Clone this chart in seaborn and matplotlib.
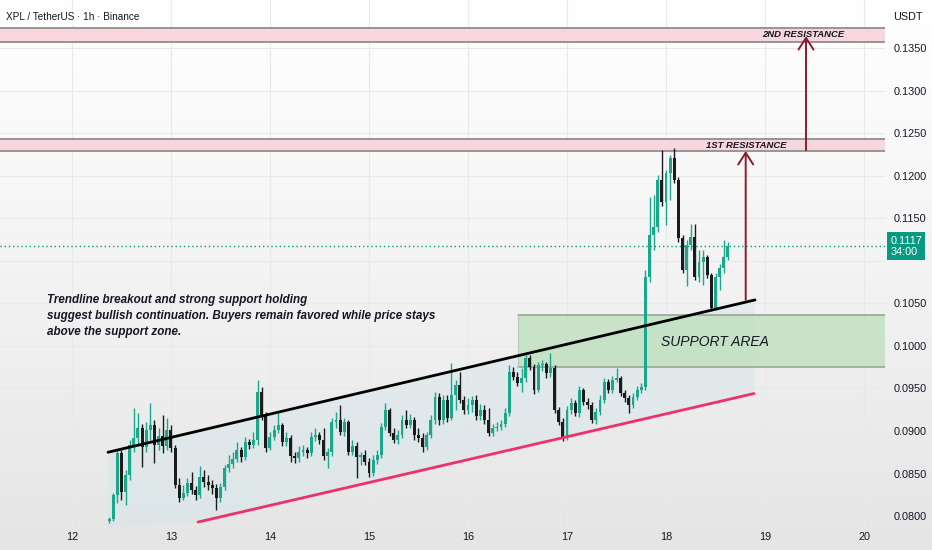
import numpy as np
import pandas as pd
import seaborn as sns
import matplotlib.pyplot as plt
from matplotlib.colors import LinearSegmentedColormap

# hourly XPL/USDT candles from 12 Sep 09:00 to 18 Sep 15:00, open = previous close
first_open = 0.0794
closes = [0.0797, 0.0825, 0.0874, 0.0828, 0.0848, 0.0884, 0.0892, 0.0904, 0.0881, 0.0901,
          0.0907, 0.0884, 0.0894, 0.0882, 0.0901, 0.0880, 0.0837, 0.0821, 0.0827, 0.0839,
          0.0831, 0.0825, 0.0846, 0.0840, 0.0837, 0.0833, 0.0821, 0.0834, 0.0857, 0.0861,
          0.0867, 0.0878, 0.0869, 0.0887, 0.0884, 0.0889, 0.0946, 0.0919, 0.0880, 0.0893,
          0.0901, 0.0907, 0.0887, 0.0892, 0.0871, 0.0868, 0.0875, 0.0878, 0.0874, 0.0893,
          0.0895, 0.0889, 0.0871, 0.0875, 0.0911, 0.0913, 0.0899, 0.0911, 0.0875, 0.0882,
          0.0869, 0.0872, 0.0864, 0.0851, 0.0866, 0.0872, 0.0905, 0.0925, 0.0898, 0.0889,
          0.0895, 0.0913, 0.0907, 0.0913, 0.0895, 0.0892, 0.0881, 0.0895, 0.0913, 0.0940,
          0.0913, 0.0936, 0.0915, 0.0942, 0.0954, 0.0936, 0.0925, 0.0931, 0.0936, 0.0918,
          0.0925, 0.0913, 0.0898, 0.0904, 0.0905, 0.0908, 0.0921, 0.0969, 0.0963, 0.0956,
          0.0962, 0.0986, 0.0975, 0.0948, 0.0977, 0.0979, 0.0968, 0.0974, 0.0925, 0.0911,
          0.0893, 0.0925, 0.0933, 0.0921, 0.0948, 0.0934, 0.0931, 0.0913, 0.0922, 0.0936,
          0.0958, 0.0948, 0.0960, 0.0962, 0.0945, 0.0939, 0.0931, 0.0940, 0.0948, 0.0952,
          0.1081, 0.1130, 0.1140, 0.1195, 0.1169, 0.1203, 0.1221, 0.1195, 0.1127, 0.1089,
          0.1119, 0.1128, 0.1081, 0.1099, 0.1104, 0.1083, 0.1045, 0.1081, 0.1092, 0.1104,
          0.1117]
highs = [0.0799, 0.0827, 0.0878, 0.0878, 0.0854, 0.0889, 0.0927, 0.0921, 0.0908, 0.0911,
         0.0933, 0.0913, 0.0904, 0.0919, 0.0915, 0.0907, 0.0884, 0.0845, 0.0837, 0.0845,
         0.0852, 0.0835, 0.0859, 0.0854, 0.0848, 0.0842, 0.0838, 0.0839, 0.0860, 0.0872,
         0.0875, 0.0887, 0.0881, 0.0893, 0.0891, 0.0899, 0.0960, 0.0952, 0.0922, 0.0899,
         0.0907, 0.0921, 0.0909, 0.0899, 0.0895, 0.0875, 0.0882, 0.0884, 0.0881, 0.0899,
         0.0904, 0.0899, 0.0904, 0.0880, 0.0915, 0.0922, 0.0931, 0.0915, 0.0913, 0.0889,
         0.0887, 0.0875, 0.0878, 0.0868, 0.0872, 0.0878, 0.0909, 0.0933, 0.0927, 0.0904,
         0.0901, 0.0919, 0.0925, 0.0920, 0.0916, 0.0904, 0.0898, 0.0899, 0.0919, 0.0946,
         0.0945, 0.0942, 0.0942, 0.0980, 0.0960, 0.0969, 0.0941, 0.0939, 0.0941, 0.0942,
         0.0932, 0.0931, 0.0927, 0.0908, 0.0911, 0.0913, 0.0927, 0.0978, 0.0975, 0.0969,
         0.0974, 0.0989, 0.0989, 0.0979, 0.0981, 0.0983, 0.0981, 0.0992, 0.0978, 0.0928,
         0.0915, 0.0929, 0.0939, 0.0936, 0.0953, 0.0951, 0.0939, 0.0934, 0.0927, 0.0942,
         0.0962, 0.0961, 0.0965, 0.0974, 0.0965, 0.0948, 0.0942, 0.0945, 0.0953, 0.0956,
         0.1089, 0.1175, 0.1177, 0.1201, 0.1230, 0.1207, 0.1224, 0.1232, 0.1198, 0.1130,
         0.1124, 0.1143, 0.1143, 0.1113, 0.1113, 0.1107, 0.1086, 0.1086, 0.1096, 0.1124,
         0.1122]
lows = [0.0792, 0.0794, 0.0815, 0.0819, 0.0813, 0.0842, 0.0875, 0.0882, 0.0858, 0.0875,
        0.0889, 0.0862, 0.0878, 0.0874, 0.0878, 0.0875, 0.0833, 0.0817, 0.0819, 0.0824,
        0.0826, 0.0819, 0.0821, 0.0834, 0.0831, 0.0826, 0.0807, 0.0817, 0.0831, 0.0852,
        0.0857, 0.0864, 0.0864, 0.0866, 0.0879, 0.0880, 0.0884, 0.0913, 0.0875, 0.0878,
        0.0889, 0.0898, 0.0882, 0.0882, 0.0864, 0.0862, 0.0864, 0.0871, 0.0868, 0.0871,
        0.0888, 0.0885, 0.0866, 0.0857, 0.0871, 0.0904, 0.0895, 0.0894, 0.0872, 0.0872,
        0.0845, 0.0860, 0.0860, 0.0846, 0.0847, 0.0861, 0.0868, 0.0901, 0.0894, 0.0886,
        0.0885, 0.0892, 0.0904, 0.0904, 0.0889, 0.0887, 0.0875, 0.0878, 0.0892, 0.0908,
        0.0907, 0.0908, 0.0911, 0.0913, 0.0925, 0.0933, 0.0920, 0.0920, 0.0922, 0.0913,
        0.0913, 0.0908, 0.0894, 0.0894, 0.0900, 0.0901, 0.0905, 0.0918, 0.0960, 0.0953,
        0.0946, 0.0958, 0.0972, 0.0943, 0.0946, 0.0970, 0.0962, 0.0963, 0.0921, 0.0907,
        0.0888, 0.0889, 0.0920, 0.0918, 0.0916, 0.0931, 0.0926, 0.0909, 0.0908, 0.0919,
        0.0933, 0.0945, 0.0945, 0.0958, 0.0941, 0.0934, 0.0921, 0.0927, 0.0936, 0.0945,
        0.0948, 0.1075, 0.1113, 0.1134, 0.1164, 0.1142, 0.1171, 0.1191, 0.1122, 0.1086,
        0.1070, 0.1113, 0.1077, 0.1075, 0.1072, 0.1080, 0.1041, 0.1042, 0.1066, 0.1086,
        0.1101]

day_ticks = [12, 13, 14, 15, 16, 17, 18, 19, 20]
price_ticks = [0.0800, 0.0850, 0.0900, 0.0950, 0.1000, 0.1050, 0.1100,
               0.1150, 0.1200, 0.1250, 0.1300, 0.1350]
current_price = 0.1117

# drawn objects (day-of-month, price)
res2_zone = (0.1357, 0.1373)
res1_zone = (0.1229, 0.1243)
support_zone = (0.0975, 0.1036)
support_start = 16.505
upper_days, upper_prices = [12.364, 18.899], [0.0875, 0.1054]
lower_days, lower_prices = [13.273, 18.889], [0.0793, 0.0944]
arrow_days = [18.805, 19.414]
arrow_from = [0.1054, 0.1230]
arrow_to = [0.1229, 0.1364]

note = ("Trendline breakout and strong support holding\n"
        "suggest bullish continuation. Buyers remain favored while price stays\n"
        "above the support zone.")

UP = "#1aa78c"
DOWN = "#1b1b1b"
TXT = "#131722"

sns.set_theme(style="whitegrid")
plt.rcParams["font.family"] = ["Liberation Sans", "DejaVu Sans"]

times = pd.date_range("2025-09-12 09:00", periods=len(closes), freq="h")
df = pd.DataFrame({"time": times, "close": closes, "high": highs, "low": lows})
df["open"] = [first_open] + closes[:-1]
df["x"] = df["time"].dt.day + df["time"].dt.hour / 24
df["high"] = df[["high", "open", "close"]].max(axis=1)
df["low"] = df[["low", "open", "close"]].min(axis=1)
up = df["close"] >= df["open"]
colors = np.where(up, UP, DOWN)

fig = plt.figure(figsize=(9.32, 5.5), dpi=100)
bg = fig.add_axes([0, 0, 1, 1], zorder=-10)
grad = LinearSegmentedColormap.from_list("bg", ["#ffffff", "#f3f3f3", "#e5e5e5"])
bg.imshow(np.linspace(0, 1, 256).reshape(-1, 1), cmap=grad, aspect="auto",
          extent=[0, 1, 0, 1])
bg.axis("off")

ax = fig.add_axes([0, 0.04, 885 / 932, 0.96])
ax.set_facecolor("none")
ax.set_xlim(11.273, 20.212)
ax.set_ylim(0.0786, 0.14064)

# channel shading
poly_x = [upper_days[0], upper_days[1], lower_days[1], lower_days[0], upper_days[0]]
poly_y = [upper_prices[0], upper_prices[1], lower_prices[1], lower_prices[0], 0.0786]
ax.fill(poly_x, poly_y, color="#d3e5ea", alpha=0.45, lw=0, zorder=1)

# zones
for lo, hi in [res2_zone, res1_zone]:
    ax.axhspan(lo, hi, color="#f8d6de", lw=0, zorder=1)
    ax.axhline(lo, color="#8e8e8e", lw=1.3, zorder=2)
    ax.axhline(hi, color="#8e8e8e", lw=1.3, zorder=2)
ax.fill_between([support_start, 20.212], support_zone[0], support_zone[1],
                color="#bfe0bd", alpha=0.8, lw=0, zorder=1)
ax.plot([support_start, 20.212], [support_zone[0]] * 2, color="#9aa59a", lw=1.2, zorder=2)
ax.plot([support_start, 20.212], [support_zone[1]] * 2, color="#9aa59a", lw=1.2, zorder=2)
ax.plot([support_start, support_start], support_zone, color="#b5c9b4", lw=0.8, zorder=2)

# candles
ax.vlines(df["x"], df["low"], df["high"], colors=colors, lw=1, zorder=3)
body = (df["close"] - df["open"]).abs().clip(lower=0.00008)
ax.bar(df["x"], body, bottom=df[["open", "close"]].min(axis=1), width=0.72 / 24,
       color=colors, lw=0, zorder=4)

# trendlines
lines = pd.DataFrame({"day": upper_days + lower_days,
                      "price": upper_prices + lower_prices,
                      "line": ["upper", "upper", "lower", "lower"]})
sns.lineplot(data=lines, x="day", y="price", hue="line",
             palette={"upper": "#000000", "lower": "#f0306a"},
             lw=2, legend=False, ax=ax, zorder=5)

# current price
ax.axhline(current_price, color="#089981", lw=1, ls=(0, (1, 2)), zorder=2)

# arrows
for d, a, b in zip(arrow_days, arrow_from, arrow_to):
    ax.annotate("", xy=(d, b), xytext=(d, a),
                arrowprops=dict(arrowstyle="->,head_length=0.7,head_width=0.45",
                                color="#8c1c2c", lw=1.4, shrinkA=0, shrinkB=0),
                zorder=6)

# labels
ax.text(19.384, 0.1366, "2ND RESISTANCE", ha="center", va="center", fontsize=6.8,
        style="italic", fontweight="bold", color=TXT, zorder=7)
ax.text(18.808, 0.1236, "1ST RESISTANCE", ha="center", va="center", fontsize=6.8,
        style="italic", fontweight="bold", color=TXT, zorder=7)
ax.text(18.495, 0.1005, "SUPPORT AREA", ha="center", va="center", fontsize=10,
        style="italic", color=TXT, zorder=7)
ax.text(11.747, 0.1061, note, ha="left", va="top", fontsize=8.4, style="italic",
        fontweight="bold", color=TXT, linespacing=1.45, zorder=7)

# axes styling
ax.grid(True, color="#e9e9e9", lw=0.8)
ax.set_axisbelow(True)
for s in ax.spines.values():
    s.set_visible(False)
ax.set_xticks(day_ticks)
ax.set_xticklabels([str(d) for d in day_ticks])
ax.set_yticks(price_ticks)
ax.set_yticklabels(["" if abs(p - 0.11) < 1e-9 else f"{p:.4f}" for p in price_ticks])
ax.yaxis.tick_right()
ax.tick_params(axis="both", length=0, labelsize=7.8, labelcolor=TXT)
ax.tick_params(axis="y", pad=6)
ax.tick_params(axis="x", pad=3)
ax.set_xlabel("")
ax.set_ylabel("")

ax.annotate(f"{current_price:.4f}\n34:00", xy=(1.006, current_price),
            xycoords=("axes fraction", "data"), ha="left", va="center",
            fontsize=7.8, color="white", linespacing=1.15,
            bbox=dict(boxstyle="square,pad=0.3", fc="#089981", ec="none"),
            annotation_clip=False, zorder=8)

fig.text(6 / 932, 1 - 17 / 550, "XPL / TetherUS · 1h · Binance", ha="left",
         va="center", fontsize=7.2, color=TXT,
         bbox=dict(boxstyle="square,pad=0.25", fc="white", ec="none"))
fig.text(908 / 932, 1 - 17 / 550, "USDT", ha="center", va="center",
         fontsize=7.8, color=TXT)

fig.savefig("out.png", dpi=100)
